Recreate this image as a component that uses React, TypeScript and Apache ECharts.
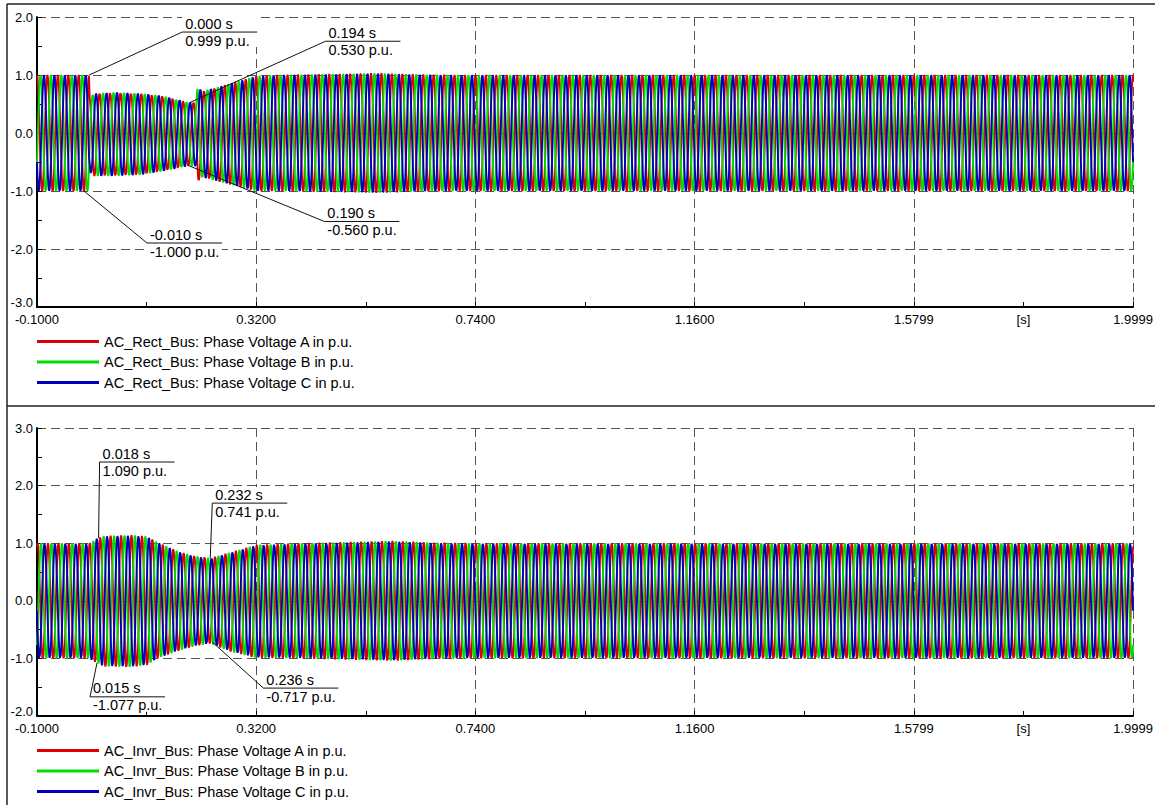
import React, { useEffect, useRef } from "react";
import * as echarts from "echarts";

// ---------- data ----------
const X_MIN = -0.1;
const X_MAX = 1.9999;
const X_TICK_STEP = 0.42;
const xTickLabels = ["-0.1000", "0.3200", "0.7400", "1.1600", "1.5799", "1.9999"];
const xUnitLabel = "[s]";
const xUnitAt = 1.79;

const rectYRange = [-3, 2];
const invrYRange = [-2, 3];

const rectSeriesNames = [
  "AC_Rect_Bus: Phase Voltage A in p.u.",
  "AC_Rect_Bus: Phase Voltage B in p.u.",
  "AC_Rect_Bus: Phase Voltage C in p.u.",
];
const invrSeriesNames = [
  "AC_Invr_Bus: Phase Voltage A in p.u.",
  "AC_Invr_Bus: Phase Voltage B in p.u.",
  "AC_Invr_Bus: Phase Voltage C in p.u.",
];
const phaseShiftsDeg = [0, -120, 120];
const invrPhaseShiftDeg = -20;
const frequencyHz = 50;
const sampleStep = 0.0005;

// envelope (peak magnitude) of the rectifier bus voltages, positive and negative halves
const rectEnvT = [-0.1, -0.0005, 0.001, 0.01, 0.05, 0.1, 0.14, 0.19, 0.205, 0.208, 0.215, 0.25, 0.32, 0.36, 0.5, 0.55, 0.62, 0.7, 2.0];
const rectEnvUp = [1.0, 1.0, 0.62, 0.68, 0.7, 0.68, 0.64, 0.53, 0.53, 0.84, 0.72, 0.8, 0.98, 1.0, 1.02, 1.03, 1.01, 1.0, 1.0];
const rectEnvLow = [1.0, 1.0, 0.68, 0.74, 0.74, 0.72, 0.66, 0.57, 0.57, 0.84, 0.76, 0.84, 1.0, 1.0, 1.02, 1.03, 1.01, 1.0, 1.0];

// envelope of the inverter bus voltages
const invrEnvT = [-0.1, 0.0, 0.015, 0.03, 0.08, 0.11, 0.13, 0.17, 0.2, 0.232, 0.27, 0.32, 0.4, 0.5, 0.58, 0.66, 0.75, 2.0];
const invrEnvUp = [1.0, 1.0, 1.08, 1.13, 1.14, 1.12, 1.02, 0.86, 0.78, 0.74, 0.84, 0.97, 1.0, 1.02, 1.04, 1.01, 1.0, 1.0];
const invrEnvLow = [1.0, 1.0, 1.08, 1.14, 1.15, 1.12, 1.0, 0.87, 0.79, 0.74, 0.88, 0.99, 1.0, 1.02, 1.04, 1.01, 1.0, 1.0];

// cursor annotations
const rectMarkerT = [0.0, 0.194, -0.01, 0.19];
const rectMarkerV = [0.999, 0.53, -1.0, -0.56];
const invrMarkerT = [0.018, 0.232, 0.015, 0.236];
const invrMarkerV = [1.09, 0.741, -1.077, -0.717];

// ---------- layout / style ----------
const rectMarkerOffsets = [[93, -43], [135, -61], [63, 52], [136, 56]];
const invrMarkerOffsets = [[1, -76], [2, -55], [-7, 34], [51, 46]];
const phaseColors = ["#dd0000", "#00dd00", "#0000bb"];
const FONT = '"Liberation Sans", Arial, sans-serif';

function envAt(ts: number[], vs: number[], t: number) {
  if (t <= ts[0]) return vs[0];
  for (let i = 1; i < ts.length; i++) {
    if (t <= ts[i]) {
      const f = (t - ts[i - 1]) / (ts[i] - ts[i - 1]);
      return vs[i - 1] + f * (vs[i] - vs[i - 1]);
    }
  }
  return vs[vs.length - 1];
}

function buildPhase(envT: number[], up: number[], low: number[], shiftDeg: number) {
  const pts: [number, number][] = [];
  const n = Math.round((X_MAX - X_MIN) / sampleStep);
  for (let i = 0; i <= n; i++) {
    const t = X_MIN + i * sampleStep;
    const s = Math.cos(2 * Math.PI * frequencyHz * t + (shiftDeg * Math.PI) / 180);
    const a = s >= 0 ? envAt(envT, up, t) : envAt(envT, low, t);
    pts.push([+(t - X_MIN).toFixed(5), +(a * s).toFixed(4)]);
  }
  return pts;
}

function xAxisCfg(gridIndex: number) {
  return {
    type: "value",
    gridIndex,
    min: 0,
    max: +(X_MAX - X_MIN).toFixed(4),
    interval: X_TICK_STEP,
    axisLine: { show: true, onZero: false, lineStyle: { color: "#000", width: 2 } },
    axisTick: { show: true, inside: true, length: 5, lineStyle: { color: "#000", width: 1 } },
    minorTick: { show: true, splitNumber: 2, length: 5, lineStyle: { color: "#000", width: 1 } },
    minorSplitLine: { show: false },
    axisLabel: {
      show: true,
      margin: 6,
      color: "#000",
      fontSize: 13,
      fontFamily: FONT,
      showMinLabel: true,
      showMaxLabel: true,
      hideOverlap: false,
      formatter: (v: number) => xTickLabels[Math.round(v / X_TICK_STEP)] ?? "",
    },
    splitLine: { show: true, lineStyle: { color: "#555", width: 1, type: [9, 5] } },
  };
}

function yAxisCfg(gridIndex: number, range: number[]) {
  return {
    type: "value",
    gridIndex,
    min: range[0],
    max: range[1],
    interval: 1,
    axisLine: { show: true, onZero: false, lineStyle: { color: "#000", width: 2 } },
    axisTick: { show: true, inside: true, length: 5, lineStyle: { color: "#000", width: 1 } },
    minorTick: { show: true, splitNumber: 2, length: 5, lineStyle: { color: "#000", width: 1 } },
    axisLabel: {
      show: true,
      margin: 4,
      color: "#000",
      fontSize: 13,
      fontFamily: FONT,
      showMinLabel: true,
      showMaxLabel: true,
      formatter: (v: number) => (v === range[0] ? `{low|${v.toFixed(1)}}` : v.toFixed(1)),
      rich: {
        low: { fontSize: 13, fontFamily: FONT, color: "#000", padding: [0, 0, 10, 0] },
      },
    },
    splitLine: { show: true, lineStyle: { color: "#555", width: 1, type: [9, 5] } },
  };
}

function legendCfg(names: string[], top: number) {
  return {
    data: names,
    orient: "vertical",
    left: 37,
    top,
    icon: "rect",
    itemWidth: 62,
    itemHeight: 3,
    itemGap: 5.5,
    selectedMode: false,
    padding: 0,
    textStyle: { fontSize: 14.5, fontFamily: FONT, color: "#000", lineHeight: 14 },
  };
}

export default function App() {
  const ref = useRef<HTMLDivElement>(null);

  useEffect(() => {
    if (!ref.current) return;
    const chart = echarts.init(ref.current, undefined, { renderer: "svg" });

    const series: any[] = [];
    const addSeries = (names: string[], axis: number, envT: number[], up: number[], low: number[], extraShift: number) => {
      names.forEach((name, i) => {
        series.push({
          name,
          type: "line",
          xAxisIndex: axis,
          yAxisIndex: axis,
          data: buildPhase(envT, up, low, phaseShiftsDeg[i] + extraShift),
          showSymbol: false,
          symbol: "none",
          silent: true,
          color: phaseColors[i],
          lineStyle: { color: phaseColors[i], width: 1.9 },
        });
      });
    };
    addSeries(rectSeriesNames, 0, rectEnvT, rectEnvUp, rectEnvLow, 0);
    addSeries(invrSeriesNames, 1, invrEnvT, invrEnvUp, invrEnvLow, invrPhaseShiftDeg);

    chart.setOption({
      animation: false,
      backgroundColor: "#fff",
      textStyle: { fontFamily: FONT },
      grid: [
        { left: 37, top: 17, width: 1096, height: 290, containLabel: false, outerBoundsMode: "none" },
        { left: 37, top: 428, width: 1096, height: 288, containLabel: false, outerBoundsMode: "none" },
      ],
      xAxis: [xAxisCfg(0), xAxisCfg(1)],
      yAxis: [yAxisCfg(0, rectYRange), yAxisCfg(1, invrYRange)],
      legend: [legendCfg(rectSeriesNames, 334), legendCfg(invrSeriesNames, 743)],
      series,
    });

    const graphics: any[] = [];
    // frame
    const frameStyle = { stroke: "#222", lineWidth: 1.5 };
    graphics.push({ type: "line", shape: { x1: 7, y1: 4, x2: 1155, y2: 4 }, style: frameStyle, z: 50 });
    graphics.push({ type: "line", shape: { x1: 7, y1: 4, x2: 7, y2: 805 }, style: frameStyle, z: 50 });
    graphics.push({ type: "line", shape: { x1: 7, y1: 406, x2: 1155, y2: 406 }, style: frameStyle, z: 50 });

    const addMarkers = (gridIndex: number, ts: number[], vs: number[], offs: number[][]) => {
      ts.forEach((t, i) => {
        const p = chart.convertToPixel({ gridIndex } as any, [t - X_MIN, vs[i]]) as number[];
        const ax = p[0] + offs[i][0];
        const ay = p[1] + offs[i][1];
        graphics.push({
          type: "rect",
          shape: { x: ax, y: ay - 16, width: 75, height: 31 },
          style: { fill: "#fff" },
          z: 60,
        });
        graphics.push({
          type: "line",
          shape: { x1: p[0], y1: p[1], x2: ax, y2: ay },
          style: { stroke: "#111", lineWidth: 1 },
          z: 61,
        });
        graphics.push({
          type: "line",
          shape: { x1: ax, y1: ay, x2: ax + 75, y2: ay },
          style: { stroke: "#111", lineWidth: 1 },
          z: 61,
        });
        graphics.push({
          type: "text",
          x: ax + 3,
          y: ay - 1,
          style: {
            text: `${t.toFixed(3)} s`,
            font: `14.5px ${FONT}`,
            fill: "#000",
            textAlign: "left",
            textVerticalAlign: "bottom",
          },
          z: 62,
        });
        graphics.push({
          type: "text",
          x: ax + 3,
          y: ay + 1,
          style: {
            text: `${vs[i].toFixed(3)} p.u.`,
            font: `14.5px ${FONT}`,
            fill: "#000",
            textAlign: "left",
            textVerticalAlign: "top",
          },
          z: 62,
        });
      });
    };
    addMarkers(0, rectMarkerT, rectMarkerV, rectMarkerOffsets);
    addMarkers(1, invrMarkerT, invrMarkerV, invrMarkerOffsets);

    [0, 1].forEach((g) => {
      const yMin = g === 0 ? rectYRange[0] : invrYRange[0];
      const p = chart.convertToPixel({ gridIndex: g } as any, [xUnitAt - X_MIN, yMin]) as number[];
      graphics.push({
        type: "text",
        x: p[0],
        y: p[1] + 6,
        style: {
          text: xUnitLabel,
          font: `13px ${FONT}`,
          fill: "#000",
          textAlign: "center",
          textVerticalAlign: "top",
        },
        z: 62,
      });
    });

    chart.setOption({ graphic: graphics });

    return () => chart.dispose();
  }, []);

  return (
    <div
      ref={ref}
      style={{ position: "fixed", left: 0, top: 0, width: 1155, height: 805, background: "#fff" }}
    />
  );
}
